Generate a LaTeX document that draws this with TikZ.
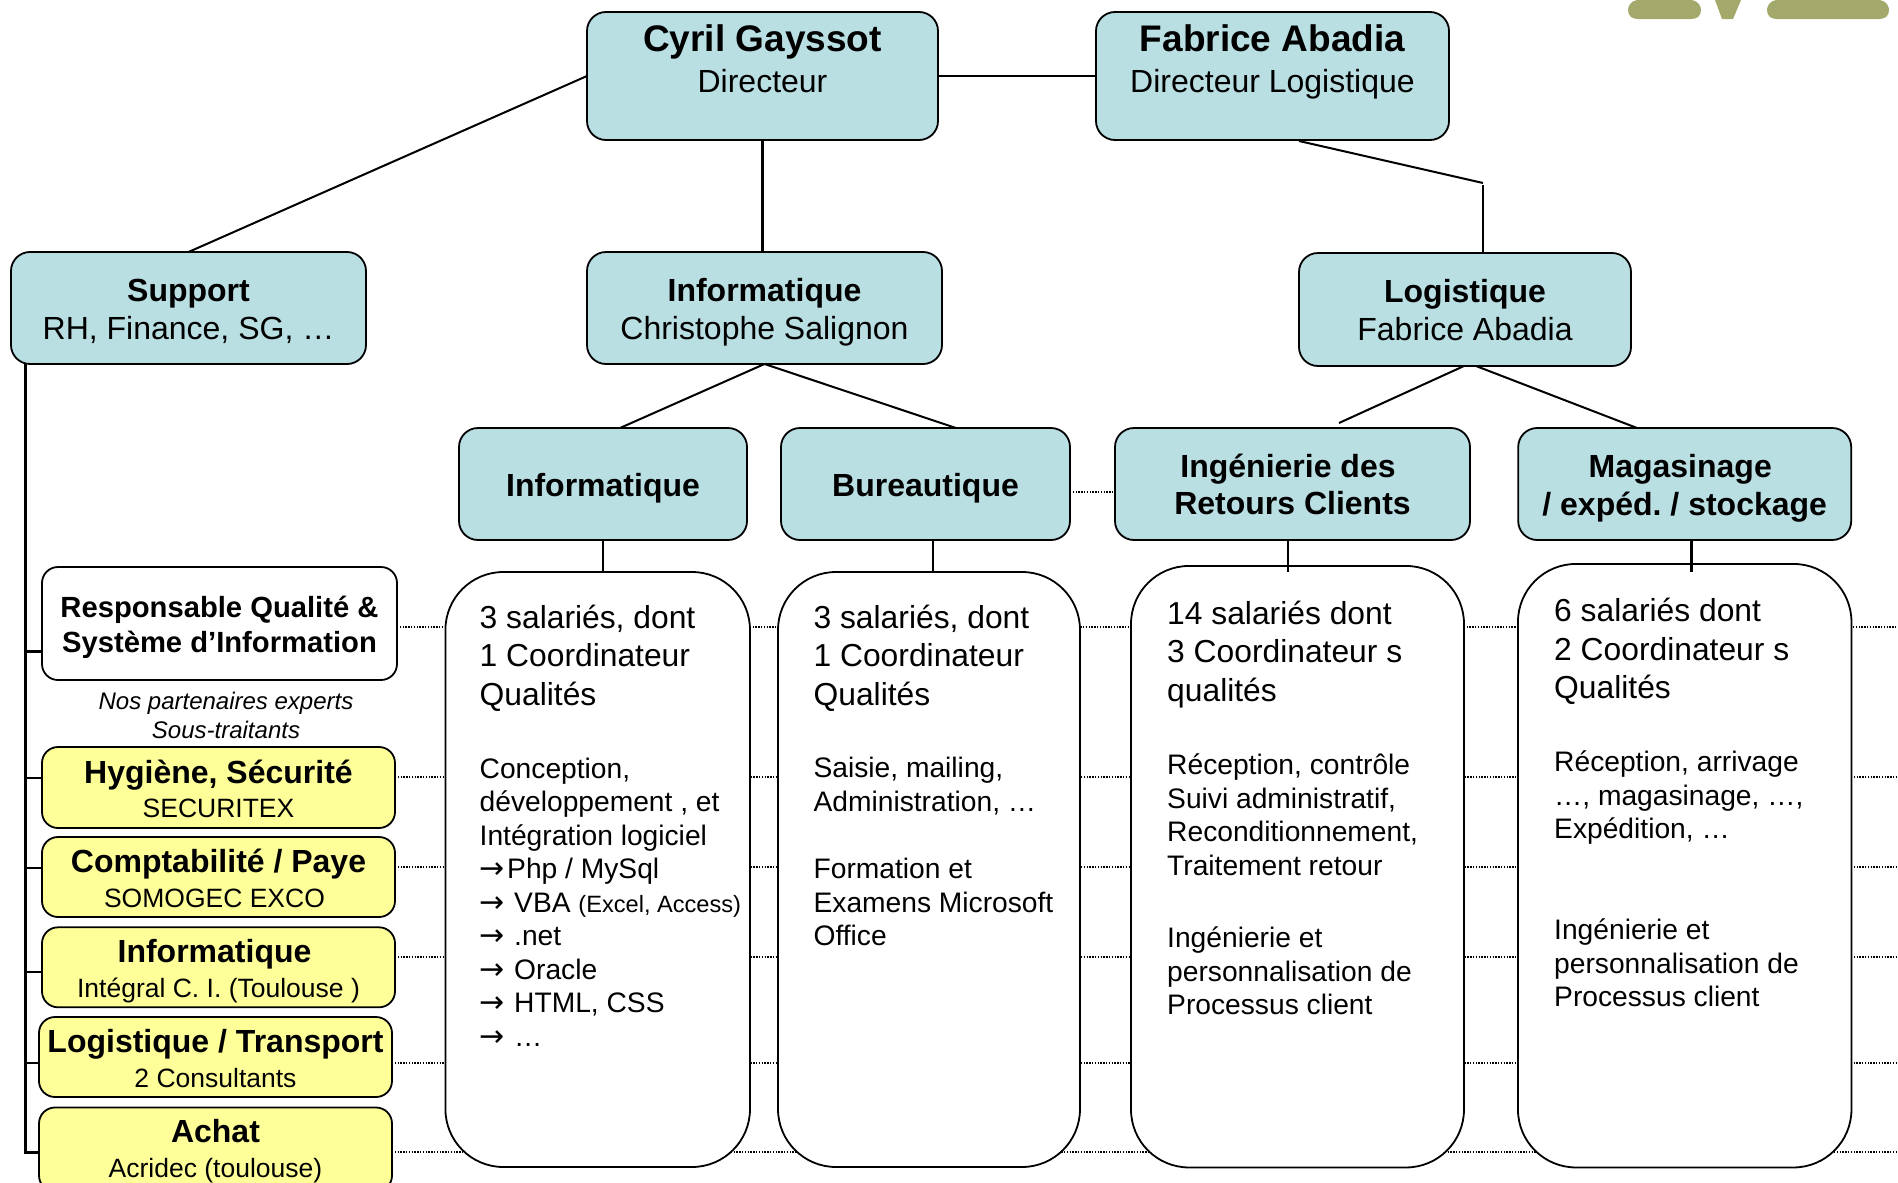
\documentclass[tikz,border=0pt]{standalone}
\usepackage{fontspec}
\setmainfont{Liberation Sans}
\newfontfamily\arrowfont{DejaVu Sans}
\AtBeginDocument{\frenchspacing}
\newcommand{\hd}[1]{{\bfseries #1}}
\newcommand{\bt}[2]{\raisebox{\dimexpr #1-0.25em\relax}[0pt][0pt]{\begin{tabular}{@{}c@{}}#2\end{tabular}}}
\newcommand{\arr}{\makebox[26.5pt][l]{\arrowfont\fontsize{30}{33.6}\selectfont →}}
\begin{document}
\begin{tikzpicture}[x=1pt,y=-1pt,
  conn/.style={draw=black,line width=2pt},
  dots/.style={draw=black,line width=1.3pt,dash pattern=on 1.4pt off 1.4pt},
  box/.style={draw=black,line width=1.8pt,rounded corners=19pt,inner sep=0pt,outer sep=0pt},
  bluebox/.style={box,fill=boxblue},
  leftbox/.style={box,fill=boxyellow,rounded corners=16pt,font=\fontsize{26.5}{34.5}\selectfont},
  whitebox/.style={box,fill=white,rounded corners=16pt},
  bodybox/.style={box,fill=white,rounded corners=58pt},
  toptext/.style={font=\fontsize{32}{41}\selectfont},
  midtext/.style={font=\fontsize{32}{37.5}\selectfont},
  leadblock/.style={anchor=west,inner sep=0pt,align=left,font=\fontsize{31.8}{38.3}\selectfont},
  listblock/.style={anchor=west,inner sep=0pt,align=left,font=\fontsize{28.2}{33.5}\selectfont},
  notetext/.style={inner sep=0pt,align=center,font=\fontsize{24}{29}\selectfont\itshape},
  logo/.style={fill=logoolive,draw=none}
]
\definecolor{boxblue}{HTML}{B9DFE3}
\definecolor{boxyellow}{HTML}{FFFF99}
\definecolor{logoolive}{HTML}{A3A86B}
\useasboundingbox (0,0) rectangle (1898,1183);
\clip (0,0) rectangle (1898,1183);
\fill[white] (0,0) rectangle (1898,1183);

% logo remnant
\fill[logo] (1637,0) -- (1692,0) .. controls (1698,1) and (1701,6) .. (1701,10) .. controls (1701,16) and (1697,19) .. (1691,19) -- (1638,19) .. controls (1632,19) and (1628,16) .. (1628,10) .. controls (1628,6) and (1631,1) .. (1637,0) -- cycle;
\fill[logo] (1715,0) -- (1741,0) -- (1733,19) -- (1722,19) -- cycle;
\fill[logo] (1776,0) -- (1880,0) .. controls (1886,1) and (1889,6) .. (1889,10) .. controls (1889,16) and (1885,19) .. (1879,19) -- (1777,19) .. controls (1771,19) and (1767,16) .. (1767,10) .. controls (1767,6) and (1770,1) .. (1776,0) -- cycle;

% free ends of the dotted lines and of the bent connector
\coordinate (dA) at (1898,627);
\coordinate (dB) at (1898,777);
\coordinate (dC) at (1898,867);
\coordinate (dD) at (1898,957);
\coordinate (dE) at (1898,1063);
\coordinate (dF) at (1898,1152);
\coordinate (fabS) at (1299,141);
\coordinate (fabElbow) at (1483,183);
\coordinate (fabDown) at (1483,185);
\coordinate (logoS1) at (1464,366);
\coordinate (logoS2) at (1476,366);
\coordinate (ingTop) at (1339,423);
\coordinate (magTop) at (1637,428);
\coordinate (infoTop) at (620,428);
\coordinate (bureauTop) at (956,428);
\coordinate (busBottom) at (25.5,1152.5);

% top rows
\node[bluebox,toptext,minimum width=351pt,minimum height=128pt] (cyril) at (762.5,76) {\bt{14pt}{\hd{\fontsize{37}{41}\selectfont Cyril Gayssot}\\Directeur}};
\node[bluebox,toptext,minimum width=353pt,minimum height=128pt] (fabrice) at (1272.5,76) {\bt{14pt}{\hd{\fontsize{37}{41}\selectfont Fabrice Abadia}\\Directeur Logistique}};
\node[bluebox,midtext,minimum width=355pt,minimum height=112pt] (support) at (188.5,308) {\bt{-3pt}{\hd{Support}\\RH, Finance, SG, …}};
\node[bluebox,midtext,minimum width=355pt,minimum height=112pt] (infoM) at (764.5,308) {\bt{-3pt}{\hd{Informatique}\\Christophe Salignon}};
\node[bluebox,midtext,minimum width=332pt,minimum height=113pt] (logi) at (1465,309.5) {\bt{-2.5pt}{\hd{Logistique}\\Fabrice Abadia}};

\node[bluebox,midtext,minimum width=288pt,minimum height=112pt] (infoS) at (603,484) {\bt{-3.5pt}{\hd{Informatique}}};
\node[bluebox,midtext,minimum width=289pt,minimum height=112pt] (bureau) at (925.5,484) {\bt{-3.5pt}{\hd{Bureautique}}};
\node[bluebox,midtext,minimum width=355pt,minimum height=112pt] (ing) at (1292.5,484) {\bt{-2.5pt}{\hd{Ingénierie des\kern9pt}\\\hd{Retours Clients}}};
\node[bluebox,midtext,minimum width=333pt,minimum height=112pt] (mag) at (1684.7,484) {\bt{-3pt}{\hd{Magasinage\kern9pt}\\\hd{/ expéd. / stockage}}};

% dotted lines, behind the boxes
\draw[dots] (397,627) -- (dA);
\draw[dots] (395,777) -- (dB);
\draw[dots] (395,867) -- (dC);
\draw[dots] (395,957) -- (dD);
\draw[dots] (392,1063) -- (dE);
\draw[dots] (392,1152) -- (dF);
\draw[dots] (bureau.east |- 0,492) -- (ing.west |- 0,492);

% body boxes
\node[bodybox,minimum width=304.6pt,minimum height=595pt] (body1) at (597.7,869.5) {};
\node[bodybox,minimum width=302pt,minimum height=595pt] (body2) at (929,869.5) {};
\node[bodybox,minimum width=333pt,minimum height=601.5pt] (body3) at (1297.5,866.7) {};
\node[bodybox,minimum width=333.5pt,minimum height=603.5pt] (body4) at (1684.7,865.7) {};

\node[leadblock] (b1a) at (479.5,658) {3 salariés, dont\\1 Coordinateur\\Qualités};
\node[listblock] (b1b) at (479.5,902) {Conception,\\développement , et\\Intégration logiciel\\\arr\hspace{1pt}Php / MySql\\\arr\hspace{8pt}VBA {\fontsize{23.6}{33.5}\selectfont (Excel, Access)}\\\arr\hspace{8pt}.net\\\arr\hspace{8pt}Oracle\\\arr\hspace{8pt}HTML, CSS\\\arr\hspace{8pt}…};
\node[leadblock] (b2a) at (813.4,658) {3 salariés, dont\\1 Coordinateur\\Qualités};
\node[listblock] (b2b) at (813.4,786) {Saisie, mailing,\\Administration, …};
\node[listblock] (b2c) at (813.4,902) {Formation et\\Examens Microsoft\\Office};
\node[leadblock] (b3a) at (1167,654.5) {14 salariés dont\\3 Coordinateur s\\qualités};
\node[listblock] (b3b) at (1167,814.5) {Réception, contrôle\\Suivi administratif,\\Reconditionnement,\\Traitement retour};
\node[listblock] (b3c) at (1167,971) {Ingénierie et\\personnalisation de\\Processus client};
\node[leadblock] (b4a) at (1554,651.5) {6 salariés dont\\2 Coordinateur s\\Qualités};
\node[listblock] (b4b) at (1554,798) {Réception, arrivage\\…, magasinage, …,\\Expédition, …};
\node[listblock] (b4c) at (1554,963) {Ingénierie et\\personnalisation de\\Processus client};

% left column
\node[whitebox,font=\fontsize{29.2}{35}\selectfont\bfseries,minimum width=355pt,minimum height=113pt] (resp) at (219.5,623.5) {\bt{-3pt}{Responsable Qualité \&\\Système d’Information}};
\node[notetext] (note) at (226,715.5) {Nos partenaires experts\\Sous-traitants};
\node[leftbox,minimum width=353pt,minimum height=81pt] (hyg) at (218.5,787.5) {\bt{-5.5pt}{\hd{\fontsize{32}{34.5}\selectfont Hygiène, Sécurité}\\SECURITEX}};
\node[leftbox,minimum width=353pt,minimum height=80pt] (comp) at (218.5,877) {\bt{-5.5pt}{\hd{\fontsize{32}{34.5}\selectfont Comptabilité / Paye}\\SOMOGEC EXCO\kern8pt}};
\node[leftbox,minimum width=353pt,minimum height=80pt] (infoP) at (218.5,967.3) {\bt{-5.5pt}{\hd{\fontsize{32}{34.5}\selectfont Informatique\kern8pt}\\Intégral C. I. (Toulouse )}};
\node[leftbox,minimum width=353pt,minimum height=80pt] (logP) at (215.5,1057) {\bt{-5.5pt}{\hd{\fontsize{32}{34.5}\selectfont Logistique / Transport}\\2 Consultants}};
\node[leftbox,minimum width=353pt,minimum height=84pt] (achat) at (215.5,1149.5) {\bt{-3pt}{\hd{\fontsize{32}{34.5}\selectfont Achat}\\Acridec (toulouse)}};

% connectors
\draw[conn] (cyril.west) -- (support.north);
\draw[conn,line width=2.6pt] (cyril.east) -- (fabrice.west);
\draw[conn,line width=2.6pt] (cyril.south) -- (cyril.south |- infoM.north);
\draw[conn] (fabS) -- (fabElbow);
\draw[conn,line width=2.6pt] (fabDown) -- (fabDown |- logi.north);
\draw[conn] (infoM.south) -- (infoTop);
\draw[conn] (infoM.south) -- (bureauTop);
\draw[conn] (logoS1) -- (ingTop);
\draw[conn] (logoS2) -- (magTop);
\draw[conn,line width=2.6pt] (infoS.south) -- (infoS.south |- body1.north);
\draw[conn] (933,540) -- (933,572);
\draw[conn] (1288,540) -- (1288,572);
\draw[conn,line width=2.6pt] (1691.5,540) -- (1691.5,572);
\draw[conn,line width=2.4pt] (support.south -| busBottom) -- (busBottom) -- (achat.west |- busBottom);
\draw[conn,line width=2.4pt] (resp.west |- 0,651.5) -- (busBottom |- 0,651.5);
\draw[conn] (hyg.west |- 0,778) -- (busBottom |- 0,778);
\draw[conn] (comp.west |- 0,868) -- (busBottom |- 0,868);
\draw[conn,line width=2.4pt] (infoP.west |- 0,972) -- (busBottom |- 0,972);
\draw[conn] (logP.west |- 0,1063) -- (busBottom |- 0,1063);
\end{tikzpicture}
\end{document}
